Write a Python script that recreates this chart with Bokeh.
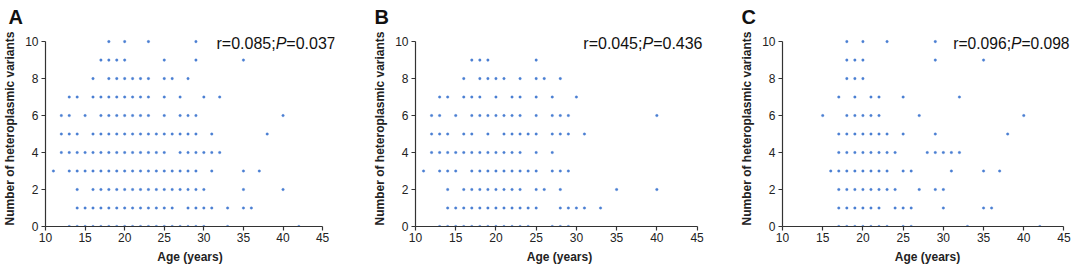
from bokeh.plotting import figure
from bokeh.models import Range1d, Label, FixedTicker, Title
from bokeh.layouts import row
from bokeh.embed import file_html
from bokeh.resources import INLINE

# ---- data: ages (years) observed at each number of heteroplasmic variants ----
rows_A = {
    10: [18, 20, 23, 29],
    9: [17, 18, 19, 20, 25, 29, 35],
    8: [16, 18, 19, 20, 21, 22, 23, 25, 26, 28],
    7: [13, 14, 16, 17, 18, 19, 20, 21, 22, 23, 25, 27, 30, 32],
    6: [12, 13, 15, 17, 18, 19, 20, 21, 22, 23, 25, 27, 28, 29, 40],
    5: [12, 13, 14, 16, 17, 18, 19, 20, 21, 22, 23, 24, 25, 26, 27, 28, 29, 31, 38],
    4: [12, 13, 14, 15, 16, 17, 18, 19, 20, 21, 22, 23, 24, 25, 27, 28, 29, 30, 31, 32],
    3: [11, 13, 14, 15, 16, 17, 18, 19, 20, 21, 22, 23, 24, 25, 26, 27, 28, 29, 31, 35, 37],
    2: [14, 16, 17, 18, 19, 20, 21, 22, 23, 24, 25, 26, 27, 28, 29, 30, 35, 40],
    1: [14, 15, 16, 17, 18, 19, 20, 21, 22, 23, 24, 25, 26, 28, 29, 30, 31, 33, 35, 36],
    0: [13, 14, 15, 16, 17, 18, 19, 20, 21, 22, 23, 24, 25, 26, 27, 28, 29, 30, 33, 42],
}
rows_B = {
    9: [17, 18, 19, 25],
    8: [16, 18, 19, 20, 21, 23, 25, 26, 28],
    7: [13, 14, 16, 17, 18, 20, 22, 23, 25, 27, 30],
    6: [12, 13, 15, 17, 18, 19, 20, 21, 22, 23, 25, 27, 28, 29, 40],
    5: [12, 13, 14, 16, 17, 19, 21, 22, 23, 24, 25, 27, 28, 29, 31],
    4: [12, 13, 14, 15, 16, 17, 18, 19, 20, 21, 22, 23, 25, 27],
    3: [11, 13, 14, 15, 17, 18, 19, 20, 21, 22, 23, 24, 25, 27, 28, 29],
    2: [14, 16, 17, 18, 19, 20, 21, 22, 23, 25, 26, 28, 35, 40],
    1: [14, 15, 16, 17, 18, 19, 20, 21, 22, 23, 24, 25, 28, 29, 30, 31, 33],
    0: [13, 14, 15, 16, 17, 18, 19, 20, 21, 22, 23, 24, 27, 28, 29],
}
rows_C = {
    10: [18, 20, 23, 29],
    9: [18, 19, 20, 29, 35],
    8: [18, 19, 20],
    7: [17, 19, 21, 22, 25, 32],
    6: [15, 18, 19, 20, 21, 22, 27, 40],
    5: [17, 18, 19, 20, 21, 22, 23, 25, 29, 38],
    4: [17, 18, 19, 20, 21, 22, 23, 24, 28, 29, 30, 31, 32],
    3: [16, 17, 18, 19, 20, 21, 22, 23, 25, 26, 31, 35, 37],
    2: [17, 18, 19, 20, 21, 22, 23, 24, 27, 29, 30],
    1: [17, 18, 19, 20, 21, 22, 24, 25, 26, 30, 35, 36],
    0: [17, 18, 19, 20, 21, 22, 23, 25, 26, 33, 42],
}
panel_letters = ["A", "B", "C"]
r_values = ["0.085", "0.045", "0.096"]
p_values = ["0.037", "0.436", "0.098"]
x_ticks = [10, 15, 20, 25, 30, 35, 40, 45]
y_ticks = [0, 2, 4, 6, 8, 10]

FONT = "Liberation Sans"
DOT = "#4a7fd2"
AXIS = "#333333"
Y_TOP = 10.6   # frame headroom above 10 so the annotation is not clipped


def panel(rows, letter, rv, pv, width, bl, br, bt, bb, x_end, tx, ty, fs=16):
    p = figure(width=width, height=269, output_backend="svg", toolbar_location=None,
               x_range=Range1d(10, x_end), y_range=Range1d(0, Y_TOP),
               min_border_left=bl, min_border_right=br,
               min_border_top=bt, min_border_bottom=bb)
    p.outline_line_color = None
    p.grid.visible = False
    p.background_fill_color = "white"
    p.border_fill_color = "white"

    xs, ys = [], []
    for cnt, ages in rows.items():
        for a in ages:
            xs.append(a)
            ys.append(cnt)
    p.scatter(xs, ys, marker="circle", size=2.6, fill_color=DOT, line_color=DOT,
              line_width=0.3)

    for ax in (p.xaxis, p.yaxis):
        ax.axis_line_color = AXIS
        ax.axis_line_width = 1.2
        ax.major_tick_line_color = AXIS
        ax.major_tick_line_width = 1.2
        ax.major_tick_in = 0
        ax.major_tick_out = 4
        ax.minor_tick_line_color = None
        ax.major_label_text_font = FONT
        ax.major_label_text_font_size = "12px"
        ax.major_label_text_color = "#222222"
        ax.axis_label_text_font = FONT
        ax.axis_label_text_font_size = "12px"
        ax.axis_label_text_font_style = "bold"
        ax.axis_label_text_color = "#222222"
    p.xaxis.ticker = FixedTicker(ticks=x_ticks)
    p.yaxis.ticker = FixedTicker(ticks=y_ticks)
    p.xaxis.bounds = (10, 45)
    p.yaxis.bounds = (0, 10)
    p.xaxis.axis_label = "Age (years)"
    p.yaxis.axis_label = "Number of heteroplasmic variants"
    p.xaxis.major_label_standoff = 2
    p.yaxis.major_label_standoff = 3
    p.xaxis.axis_label_standoff = 5
    p.yaxis.axis_label_standoff = 5

    # panel letter as title, shifted left of the frame
    t = Title(text=letter, align="left", offset=-(bl - 3), standoff=5,
              text_font=FONT, text_font_size="20px", text_font_style="bold",
              text_color="#111111")
    p.title = t

    # correlation annotation (italic P)
    w1 = 3.697 * fs
    w2 = 0.667 * fs
    common = dict(x=tx, y=ty, text_font=FONT, text_font_size=f"{fs}px",
                  text_color="#111111", text_baseline="alphabetic")
    p.add_layout(Label(text=f"r={rv};", **common))
    p.add_layout(Label(text="P", text_font_style="italic", x_offset=w1, **common))
    p.add_layout(Label(text=f"={pv}", x_offset=w1 + w2, **common))
    return p


pA = panel(rows_A, panel_letters[0], r_values[0], p_values[0], 370, 40, 36, 28, 43, 46.5, 31.6, 9.88)
pB = panel(rows_B, panel_letters[1], r_values[1], p_values[1], 367, 44, 34, 28, 43, 45.8, 30.86, 9.88)
pC = panel(rows_C, panel_letters[2], r_values[2], p_values[2], 335, 44, 0, 30, 41, 46.06, 31.24, 9.88, 15.6)

layout = row(pA, pB, pC, spacing=0)
open("out.html", "w").write(file_html(layout, INLINE))
